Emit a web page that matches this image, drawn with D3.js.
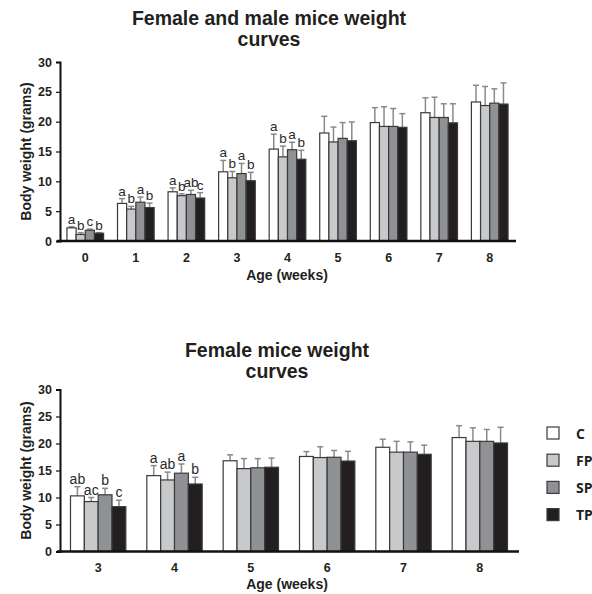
<!DOCTYPE html>
<html>
<head>
<meta charset="utf-8">
<script src="https://cdn.jsdelivr.net/npm/d3@7"></script>
<style>
  body { margin: 0; background: #fff; }
  text { font-family: "Liberation Sans", Arial, sans-serif; }
</style>
</head>
<body>
<svg width="592" height="594"></svg>
<script>
// groups and colours
var groups = ["C", "FP", "SP", "TP"];
var fills = ["#ffffff", "#c8c9cb", "#8f9195", "#231f20"];

// top panel: female and male, weeks 0-8
var topWeeks = ["0", "1", "2", "3", "4", "5", "6", "7", "8"];
var topC  = [2.2, 6.3, 8.25, 11.6, 15.4, 18.1, 19.85, 21.5, 23.3];
var topFP = [1.1, 5.35, 7.6, 10.6, 14.1, 16.6, 19.2, 20.7, 22.7];
var topSP = [1.8, 6.5, 7.8, 11.3, 15.3, 17.2, 19.2, 20.7, 23.1];
var topTP = [1.3, 5.6, 7.2, 10.1, 13.7, 16.8, 19.05, 19.8, 22.95];
var topCErr  = [0.2, 0.8, 0.65, 1.9, 2.5, 2.8, 2.5, 2.5, 2.8];
var topFPErr = [0.3, 0.45, 0.3, 1.05, 1.8, 2.5, 3.3, 3.4, 3.2];
var topSPErr = [0.2, 0.85, 0.7, 1.7, 1.25, 2.65, 3.0, 2.3, 2.4];
var topTPErr = [0.1, 0.75, 0.9, 1.4, 1.5, 3.15, 2.3, 3.2, 3.55];
var topLetters = [["a","b","c","b"], ["a","b","a","b"], ["a","b","ab","c"], ["a","b","a","b"], ["a","b","a","b"], [], [], [], []];

// bottom panel: female, weeks 3-8
var botWeeks = ["3", "4", "5", "6", "7", "8"];
var botC  = [10.3, 14.05, 16.8, 17.6, 19.3, 21.1];
var botFP = [9.25, 13.25, 15.35, 17.4, 18.4, 20.4];
var botSP = [10.5, 14.5, 15.5, 17.45, 18.4, 20.4];
var botTP = [8.3, 12.5, 15.6, 16.75, 18.0, 20.1];
var botCErr  = [1.7, 1.85, 1.1, 0.9, 1.5, 2.2];
var botFPErr = [0.75, 1.45, 1.85, 2.0, 2.0, 2.5];
var botSPErr = [1.2, 1.7, 1.7, 1.25, 1.9, 2.2];
var botTPErr = [1.2, 1.25, 1.7, 1.8, 1.7, 2.9];
var botLetters = [["ab","ac","b","c"], ["a","ab","a","b"], [], [], [], []];

var yTicks = [0, 5, 10, 15, 20, 25, 30];

var svg = d3.select("svg");

function drawPanel(opt) {
  var x = d3.scaleBand().domain(opt.weeks).range([60, opt.right]).paddingInner(0.275).paddingOuter(0.1375);
  var xs = d3.scaleBand().domain(groups).range([0, x.bandwidth()]);
  var y = d3.scaleLinear().domain([0, 30]).range([opt.bottom, opt.top]);

  var g = svg.append("g");

  // title
  var t = g.append("text")
    .attr("x", opt.titleX).attr("y", opt.titleY)
    .attr("text-anchor", "middle")
    .attr("font-size", 19.5).attr("font-weight", "bold").attr("fill", "#231f20");
  t.append("tspan").attr("x", opt.titleX).text(opt.title[0]);
  t.append("tspan").attr("x", opt.titleX).attr("dy", opt.titleGap).text(opt.title[1]);

  var rows = opt.weeks.map(function(w, i) {
    return groups.map(function(k, j) {
      return { week: w, group: k, j: j, v: opt.means[j][i], e: opt.errs[j][i], letter: opt.letters[i][j] };
    });
  });
  var flat = [].concat.apply([], rows);

  // error bars
  var eb = g.append("g").attr("stroke", "#8a8a8a").attr("stroke-width", 1.5);
  eb.selectAll("line.v").data(flat).enter().append("line")
    .attr("x1", function(d) { return x(d.week) + xs(d.group) + xs.bandwidth() / 2; })
    .attr("x2", function(d) { return x(d.week) + xs(d.group) + xs.bandwidth() / 2; })
    .attr("y1", function(d) { return y(d.v); })
    .attr("y2", function(d) { return y(d.v + d.e); });
  eb.selectAll("line.h").data(flat).enter().append("line")
    .attr("x1", function(d) { return x(d.week) + xs(d.group) + xs.bandwidth() / 2 - 3; })
    .attr("x2", function(d) { return x(d.week) + xs(d.group) + xs.bandwidth() / 2 + 3; })
    .attr("y1", function(d) { return y(d.v + d.e); })
    .attr("y2", function(d) { return y(d.v + d.e); });

  // bars
  g.append("g").selectAll("rect").data(flat).enter().append("rect")
    .attr("x", function(d) { return x(d.week) + xs(d.group); })
    .attr("width", xs.bandwidth())
    .attr("y", function(d) { return y(d.v); })
    .attr("height", function(d) { return y(0) - y(d.v); })
    .attr("fill", function(d) { return fills[d.j]; })
    .attr("stroke", "#3a3a3a").attr("stroke-width", 1.2);

  // significance letters
  g.append("g").selectAll("text").data(flat.filter(function(d) { return d.letter; })).enter().append("text")
    .attr("x", function(d) { return x(d.week) + xs(d.group) + xs.bandwidth() / 2; })
    .attr("y", function(d) { return y(d.v + d.e) - 3; })
    .attr("text-anchor", "middle")
    .attr("font-size", opt.letterSize).attr("fill", "#2a2a2a")
    .text(function(d) { return d.letter; });

  // y axis
  var ya = g.append("g").attr("transform", "translate(60,0)")
    .call(d3.axisLeft(y).tickValues(yTicks).tickSize(4).tickPadding(4));
  ya.select(".domain").attr("stroke", "#111").attr("stroke-width", 2);
  ya.selectAll(".tick line").attr("stroke", "#111").attr("stroke-width", 1.2);
  ya.selectAll(".tick text").attr("font-size", 12.5).attr("font-weight", "bold").attr("fill", "#231f20")
    .style("font-family", "'Liberation Sans', Arial, sans-serif");

  // x axis
  var xa = g.append("g").attr("transform", "translate(0," + opt.bottom + ")")
    .call(d3.axisBottom(x).tickSize(0).tickPadding(12));
  xa.select(".domain").attr("d", "M57,0H" + (opt.right + 1)).attr("stroke", "#111").attr("stroke-width", 2.5);
  xa.selectAll(".tick text").attr("font-size", 12.5).attr("font-weight", "bold").attr("fill", "#231f20")
    .style("font-family", "'Liberation Sans', Arial, sans-serif");

  g.append("text")
    .attr("x", 287).attr("y", opt.bottom + opt.ageGap)
    .attr("text-anchor", "middle").attr("font-size", 14).attr("font-weight", "bold").attr("fill", "#231f20")
    .text("Age (weeks)");

  g.append("text")
    .attr("transform", "translate(31," + (opt.top + opt.bottom) / 2 + ") rotate(-90)")
    .attr("text-anchor", "middle").attr("font-size", 14).attr("font-weight", "bold").attr("fill", "#231f20")
    .text("Body weight (grams)");
}

drawPanel({
  weeks: topWeeks, right: 515, top: 62, bottom: 241,
  means: [topC, topFP, topSP, topTP], errs: [topCErr, topFPErr, topSPErr, topTPErr],
  letters: topLetters, letterSize: 13.5, ageGap: 38.5,
  title: ["Female and male mice weight", "curves"], titleX: 269, titleY: 25, titleGap: 20.5
});

drawPanel({
  weeks: botWeeks, right: 518, top: 389.5, bottom: 551.5,
  means: [botC, botFP, botSP, botTP], errs: [botCErr, botFPErr, botSPErr, botTPErr],
  letters: botLetters, letterSize: 14, ageGap: 37,
  title: ["Female mice weight", "curves"], titleX: 277, titleY: 356.5, titleGap: 21.5
});

// legend
var legend = svg.append("g").attr("transform", "translate(547,427)");
var li = legend.selectAll("g").data(groups).enter().append("g")
  .attr("transform", function(d, i) { return "translate(0," + i * 27.2 + ")"; });
li.append("rect").attr("width", 12).attr("height", 12)
  .attr("fill", function(d, i) { return fills[i]; })
  .attr("stroke", "#3a3a3a").attr("stroke-width", 1.2);
li.append("text").attr("x", 29).attr("y", 11.5)
  .attr("font-size", 14).attr("font-weight", "bold").attr("fill", "#231f20")
  .style("font-family", "'Open Sans', sans-serif")
  .text(function(d) { return d; });
</script>
</body>
</html>
